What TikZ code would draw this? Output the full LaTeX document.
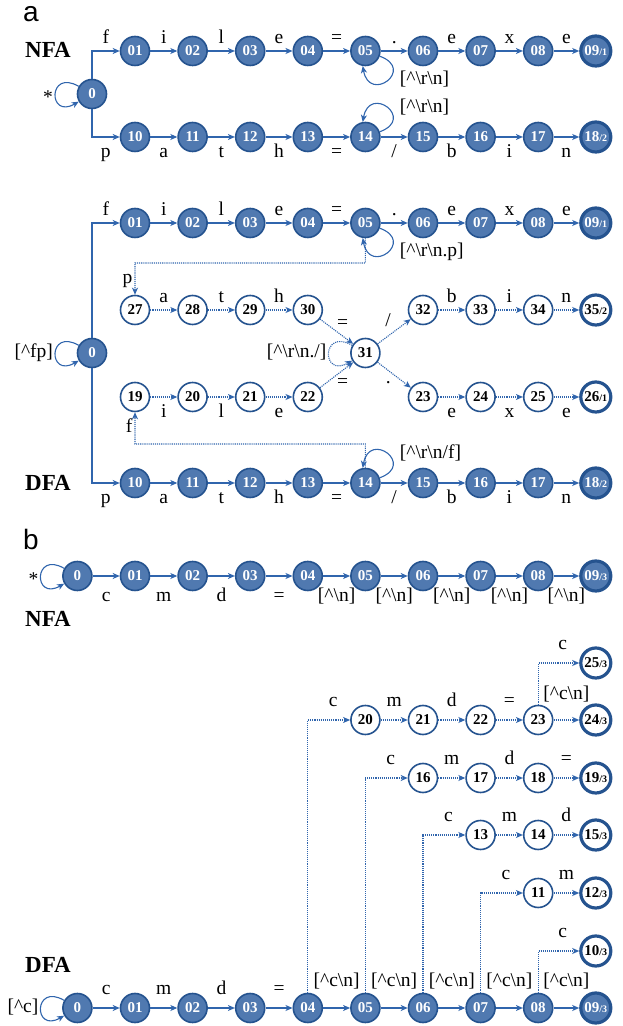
\documentclass[tikz,border=0pt]{standalone}
\usepackage{fontspec}
\setmainfont{Liberation Serif}
\setsansfont{Liberation Sans}
\usepackage{tikz}
\usetikzlibrary{arrows,arrows.meta,positioning,calc}
\definecolor{statefill}{HTML}{5079B0}
\definecolor{stateline}{HTML}{25538F}
\definecolor{edgeblue}{HTML}{3065AD}
\newcommand{\crt}{\textasciicircum}
\newcommand{\bsl}{\textbackslash}
\newcommand{\fsub}[1]{{\fontsize{10}{10}\selectfont#1}}

\begin{document}
\begin{tikzpicture}[x=1pt, y=1pt, >={Stealth[length=7pt,width=6pt,inset=2pt]},
  st/.style={circle, draw=stateline, fill=statefill, line width=1.6pt, minimum size=29pt, inner sep=0pt, text=white, font=\fontsize{15}{15}\selectfont\bfseries},
  fin/.style={st, line width=3.2pt, minimum size=30pt},
  nst/.style={st, fill=white, text=black},
  nfin/.style={fin, fill=white, text=black},
  tr/.style={->, draw=edgeblue, line width=1.1pt},
  dtr/.style={tr, densely dotted},
  lab/.style={font=\fontsize{19.5}{19.5}\selectfont, inner sep=2pt, text height=13pt, text depth=4pt},
  ab/.style={lab, above, yshift=1pt},
  bl/.style={lab, below, yshift=-5pt},
  lw/.style={lab, anchor=west, xshift=10pt},
  ttl/.style={font=\fontsize{23}{23}\selectfont\bfseries},
  part/.style={font=\fontsize{28}{28}\selectfont\sffamily}]
\useasboundingbox (0,0) rectangle (622,1026);
% Panel a, NFA
\node[part, anchor=base] (ta) at (31,1004) {a};
\node[ttl, anchor=base] (aNt) at (48,968) {NFA};
\node[st] (aN0) at (92,932) {0};
\foreach \k/\t in {1/01,2/02,3/03,4/04,5/05,6/06,7/07,8/08}
  \node[st] (aN\t) at ({77.4+57.6*\k},975) {\t};
\node[fin] (aN09) at (595.8,975) {09\fsub{/1}};
\foreach \k/\t in {1/10,2/11,3/12,4/13,5/14,6/15,7/16,8/17}
  \node[st] (aN\t) at ({77.4+57.6*\k},889) {\t};
\node[fin] (aN18) at (595.8,889) {18\fsub{/2}};
\draw[tr] (aN0) |- node[pos=0.75,ab]{f} (aN01);
\draw[tr] (aN0) |- node[pos=0.75,bl]{p} (aN10);
\foreach \a/\b/\l in {01/02/i,02/03/l,03/04/e,04/05/=,05/06/.,06/07/e,07/08/x,08/09/e}
  \draw[tr] (aN\a) -- node[ab]{\l} (aN\b);
\foreach \a/\b/\l in {10/11/a,11/12/t,12/13/h,13/14/=,14/15/{/},15/16/b,16/17/i,17/18/n}
  \draw[tr] (aN\a) -- node[bl]{\l} (aN\b);
% self loops
\draw[tr] (aN0.150) to[out=150,in=210,looseness=6] node[lab,left,yshift=-5pt]{*} (aN0.210);
\draw[tr] (aN05.-20) to[out=-20,in=-80,looseness=5] node[lw]{[\crt\bsl r\bsl n]} (aN05.-100);
\draw[tr] (aN14.20) to[out=20,in=80,looseness=5] node[lw]{[\crt\bsl r\bsl n]} (aN14.100);

% Panel a, DFA
\node[ttl, anchor=base] (aDt) at (48,535) {DFA};
\node[st] (aD0) at (92,673) {0};
\foreach \k/\t in {1/01,2/02,3/03,4/04,5/05,6/06,7/07,8/08}
  \node[st] (aD\t) at ({77.4+57.6*\k},803) {\t};
\node[fin] (aD09) at (595.8,803) {09\fsub{/1}};
\foreach \k/\t in {1/27,2/28,3/29,4/30,6/32,7/33,8/34}
  \node[nst] (aD\t) at ({77.4+57.6*\k},716) {\t};
\node[nfin] (aD35) at (595.8,716) {35\fsub{/2}};
\node[nst] (aD31) at (365.4,673) {31};
\foreach \k/\t in {1/19,2/20,3/21,4/22,6/23,7/24,8/25}
  \node[nst] (aD\t) at ({77.4+57.6*\k},629) {\t};
\node[nfin] (aD26) at (595.8,629) {26\fsub{/1}};
\foreach \k/\t in {1/10,2/11,3/12,4/13,5/14,6/15,7/16,8/17}
  \node[st] (aD\t) at ({77.4+57.6*\k},543) {\t};
\node[fin] (aD18) at (595.8,543) {18\fsub{/2}};
\draw[tr] (aD0) |- node[pos=0.75,ab]{f} (aD01);
\draw[tr] (aD0) |- node[pos=0.75,bl]{p} (aD10);
\foreach \a/\b/\l in {01/02/i,02/03/l,03/04/e,04/05/=,05/06/.,06/07/e,07/08/x,08/09/e}
  \draw[tr] (aD\a) -- node[ab]{\l} (aD\b);
\foreach \a/\b/\l in {10/11/a,11/12/t,12/13/h,13/14/=,14/15/{/},15/16/b,16/17/i,17/18/n}
  \draw[tr] (aD\a) -- node[bl]{\l} (aD\b);
\foreach \a/\b/\l in {27/28/a,28/29/t,29/30/h,32/33/b,33/34/i,34/35/n}
  \draw[dtr] (aD\a) -- node[ab]{\l} (aD\b);
\foreach \a/\b/\l in {19/20/i,20/21/l,21/22/e,23/24/e,24/25/x,25/26/e}
  \draw[dtr] (aD\a) -- node[bl]{\l} (aD\b);
\draw[dtr] (aD30) -- node[lab,xshift=6pt,yshift=7pt]{=} (aD31);
\draw[dtr] (aD22) -- node[lab,xshift=6pt,yshift=-8pt]{=} (aD31);
\draw[dtr] (aD31) -- node[lab,xshift=-6pt,yshift=9pt]{/} (aD32);
\draw[dtr] (aD31) -- node[lab,xshift=-6pt,yshift=-4pt]{.} (aD23);
% self loops
\draw[tr] (aD0.150) to[out=150,in=210,looseness=6] node[lab,left]{[\crt fp]} (aD0.210);
\draw[dtr] (aD31.150) to[out=150,in=210,looseness=6] node[lab,left]{[\crt\bsl r\bsl n./]} (aD31.210);
\draw[tr] (aD05.-20) to[out=-20,in=-80,looseness=5] node[lw]{[\crt\bsl r\bsl n.p]} (aD05.-100);
\draw[tr] (aD14.20) to[out=20,in=80,looseness=5] node[lw]{[\crt\bsl r\bsl n/f]} (aD14.100);
% back edges
\coordinate (aDpc) at (365.4,763);
\coordinate (aDfc) at (365.4,582);
\draw[dtr] (aD05) -- (aDpc) -| node[pos=0.75,lab,left]{p} (aD27);
\draw[dtr] (aD14) -- (aDfc) -| node[pos=0.75,lab,left]{f} (aD19);

% Panel b, NFA
\node[part, anchor=base] (tb) at (31,476) {b};
\node[ttl, anchor=base] (bNt) at (48,399) {NFA};
\node[st] (bN0) at (77.4,450) {0};
\foreach \k/\t in {1/01,2/02,3/03,4/04,5/05,6/06,7/07,8/08}
  \node[st] (bN\t) at ({77.4+57.6*\k},450) {\t};
\node[fin] (bN09) at (595.8,450) {09\fsub{/3}};
\foreach \a/\b/\l in {0/01/c,01/02/m,02/03/d,03/04/=,04/05/{[\crt\bsl n]},05/06/{[\crt\bsl n]},06/07/{[\crt\bsl n]},07/08/{[\crt\bsl n]},08/09/{[\crt\bsl n]}}
  \draw[tr] (bN\a) -- node[lab,below,yshift=-10pt]{\l} (bN\b);
\draw[tr] (bN0.150) to[out=150,in=210,looseness=6] node[lab,left,yshift=-5pt]{*} (bN0.210);

% Panel b, DFA
\node[ttl, anchor=base] (bDt) at (48,53) {DFA};
\node[st] (bD0) at (77.4,18) {0};
\foreach \k/\t in {1/01,2/02,3/03,4/04,5/05,6/06,7/07,8/08}
  \node[st] (bD\t) at ({77.4+57.6*\k},18) {\t};
\node[fin] (bD09) at (595.8,18) {09\fsub{/3}};
\foreach \a/\b/\l in {0/01/c,01/02/m,02/03/d,03/04/=}
  \draw[tr] (bD\a) -- node[lab,above,yshift=7pt]{\l} (bD\b);
\foreach \a/\b in {04/05,05/06,06/07,07/08,08/09}
  \draw[tr] (bD\a) -- node[lab,above,yshift=15pt]{[\crt c\bsl n]} (bD\b);
\draw[tr] (bD0.150) to[out=150,in=210,looseness=6] node[lab,left]{[\crt c]} (bD0.210);
% upper branches
\node[nfin] (bD25) at (595.8,363) {25\fsub{/3}};
\foreach \k/\t in {5/20,6/21,7/22,8/23}
  \node[nst] (bD\t) at ({77.4+57.6*\k},306) {\t};
\node[nfin] (bD24) at (595.8,306) {24\fsub{/3}};
\foreach \k/\t in {6/16,7/17,8/18}
  \node[nst] (bD\t) at ({77.4+57.6*\k},248) {\t};
\node[nfin] (bD19) at (595.8,248) {19\fsub{/3}};
\node[nst] (bD13) at (480.6,191) {13};
\node[nst] (bD14) at (538.2,191) {14};
\node[nfin] (bD15) at (595.8,191) {15\fsub{/3}};
\node[nst] (bD11) at (538.2,133) {11};
\node[nfin] (bD12) at (595.8,133) {12\fsub{/3}};
\node[nfin] (bD10) at (595.8,75) {10\fsub{/3}};
\foreach \a/\b in {04/20,05/16,06/13,07/11,08/10,23/25}
  \draw[dtr] (bD\a) |- node[pos=0.8,lab,above,yshift=7pt]{c} (bD\b);
\foreach \a/\b/\l in {20/21/m,21/22/d,22/23/=,16/17/m,17/18/d,18/19/=,13/14/m,14/15/d,11/12/m}
  \draw[dtr] (bD\a) -- node[lab,above,yshift=7pt]{\l} (bD\b);
\draw[dtr] (bD23) -- node[lab,above,yshift=14pt]{[\crt c\bsl n]} (bD24);
\end{tikzpicture}
\end{document}
